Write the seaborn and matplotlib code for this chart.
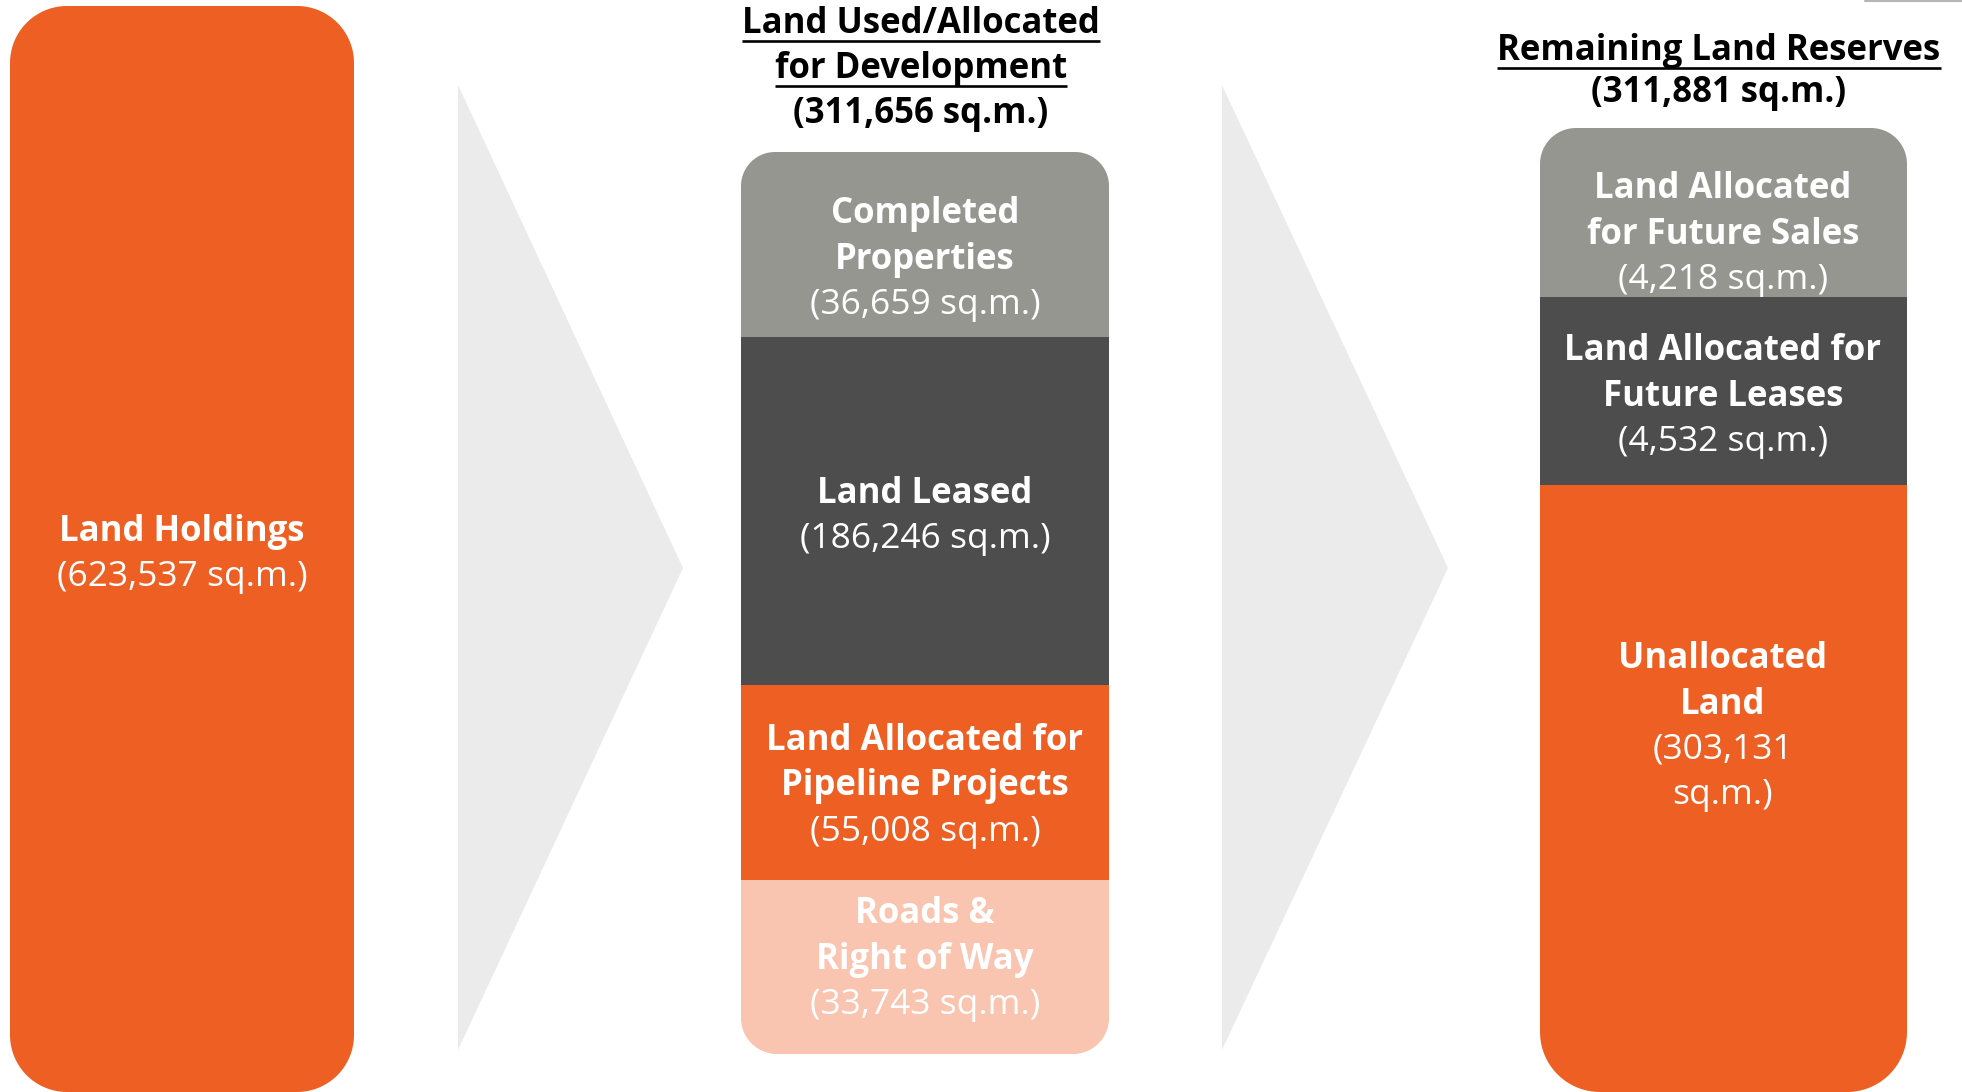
import numpy as np
import seaborn as sns
import matplotlib.pyplot as plt
from matplotlib.patches import Polygon

# values (sq.m.)
total_land = 623537
used_total = 311656
reserve_total = 311881

used_names = ["Completed\nProperties", "Land Leased",
              "Land Allocated for\nPipeline Projects", "Roads &\nRight of Way"]
used_values = [36659, 186246, 55008, 33743]

reserve_names = ["Land Allocated\nfor Future Sales", "Land Allocated for\nFuture Leases",
                 "Unallocated\nLand"]
reserve_values = [4218, 4532, 303131]

# layout in pixels (segments are not drawn to scale in the original)
used_edges = [152, 337, 685, 880, 1054]
reserve_edges = [128, 297, 485, 1092]
used_text_y = [223, 503, 750, 923]
reserve_text_y = [198, 360, 668]

orange = "#EE5F24"
grey = "#969691"
dark = "#4D4D4D"
peach = "#F9C4B0"
arrow_col = "#EBEBEB"
used_colors = [grey, dark, orange, peach]
reserve_colors = [grey, dark, orange]

sns.set_theme(style="white")
plt.rcParams["font.family"] = ["Open Sans", "DejaVu Sans"]

W, H = 1962, 1092
FS_B = 25     # bold lines
FS_R = 25.5   # regular value lines
GAP = 45.5

fig = plt.figure(figsize=(W / 100, H / 100), dpi=100)
ax = fig.add_axes([0, 0, 1, 1])
ax.set_xlim(0, W)
ax.set_ylim(H, 0)
ax.axis("off")


def rounded_box(x0, y0, x1, y1, rt, rb):
    pts = []
    for cx, cy, r, a0, a1 in [(x0 + rt, y0 + rt, rt, 180, 270), (x1 - rt, y0 + rt, rt, 270, 360),
                              (x1 - rb, y1 - rb, rb, 0, 90), (x0 + rb, y1 - rb, rb, 90, 180)]:
        t = np.radians(np.linspace(a0, a1, 30))
        pts += list(zip(cx + r * np.cos(t), cy + r * np.sin(t)))
    return Polygon(pts, closed=True, fc="none", ec="none")


def column(x0, x1, edges, colors, rt, rb):
    clip = rounded_box(x0, edges[0], x1, edges[-1], rt, rb)
    ax.add_patch(clip)
    bars = ax.bar((x0 + x1) / 2, np.diff(edges), bottom=edges[:-1], width=x1 - x0,
                  color=colors, linewidth=0)
    for b in bars:
        b.set_clip_path(clip)


def label(x, y0, name, value, split_value=False):
    lines = [(s, "bold", FS_B) for s in name.split("\n")]
    val = f"({value:,} sq.m.)"
    if split_value:
        lines += [(s, "normal", FS_R) for s in val.split(" ")]
    else:
        lines.append((val, "normal", FS_R))
    for i, (s, w, fs) in enumerate(lines):
        ax.text(x, y0 + i * GAP, s, color="white", fontsize=fs, fontweight=w,
                ha="center", va="baseline")


# arrows
for xl, xr in [(458, 683), (1222, 1448)]:
    ax.add_patch(Polygon([(xl, 85), (xr, 568), (xl, 1050)], closed=True, fc=arrow_col, ec="none"))

# land holdings
column(10, 354, [6, 1092], [orange], 57, 57)
label(182, 541, "Land Holdings", total_land)

# used / allocated
column(741, 1109, used_edges, used_colors, 34, 36)
for n, v, y in zip(used_names, used_values, used_text_y):
    label(925, y, n, v)

# remaining reserves
column(1540, 1907, reserve_edges, reserve_colors, 36, 60)
for i, (n, v, y) in enumerate(zip(reserve_names, reserve_values, reserve_text_y)):
    label(1723, y, n, v, split_value=(i == 2))

# headers
underlined = []
for i, s in enumerate(["Land Used/Allocated", "for Development"]):
    underlined.append((ax.text(921, 33 + i * 45, s, fontsize=FS_B, fontweight="bold",
                               color="black", ha="center", va="baseline"), 33 + i * 45))
ax.text(921, 123, f"({used_total:,} sq.m.)", fontsize=FS_B, fontweight="bold",
        color="black", ha="center", va="baseline")
underlined.append((ax.text(1719, 60, "Remaining Land Reserves", fontsize=FS_B, fontweight="bold",
                           color="black", ha="center", va="baseline"), 60))
ax.text(1719, 102, f"({reserve_total:,} sq.m.)", fontsize=FS_B, fontweight="bold",
        color="black", ha="center", va="baseline")

fig.canvas.draw()
r = fig.canvas.get_renderer()
inv = ax.transData.inverted()
for t, yb in underlined:
    bb = t.get_window_extent(r)
    xa = inv.transform((bb.x0, 0))[0]
    xb = inv.transform((bb.x1, 0))[0]
    ax.plot([xa, xb], [yb + 8, yb + 8], color="black", lw=1.9, solid_capstyle="butt")

ax.plot([1865, 1962], [1, 1], color="#b5b5b5", lw=1.5)

fig.savefig("out.png", dpi=100)
